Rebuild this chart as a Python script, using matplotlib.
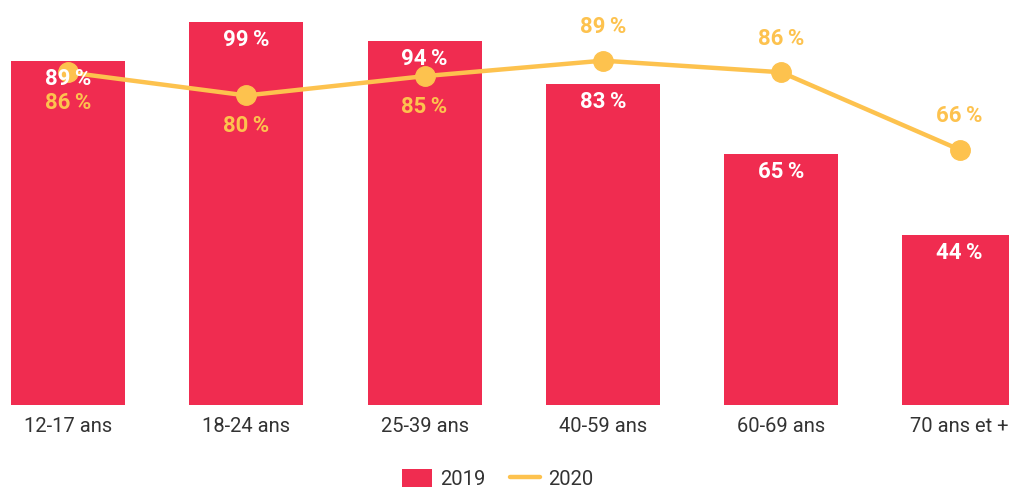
import matplotlib
matplotlib.use("Agg")
import matplotlib.pyplot as plt
from matplotlib.patches import Patch
from matplotlib.lines import Line2D

# Age groups and shares (%)
categories = ["12-17 ans", "18-24 ans", "25-39 ans", "40-59 ans", "60-69 ans", "70 ans et +"]
values_2019 = [89, 99, 94, 83, 65, 44]
values_2020 = [86, 80, 85, 89, 86, 66]
label_below_2020 = [True, True, True, False, False, False]

RED = "#F02C50"
YELLOW = "#FDC24E"
TEXT = "#333333"
BOLD_FONT = ["Roboto", "DejaVu Sans"]

W, H, DPI = 1009, 488, 100
fig = plt.figure(figsize=(W / DPI, H / DPI), dpi=DPI)

px_per_cat = 178.3
x_first = 68.0
baseline_px = 405.0
px_per_unit = 3.869

ax = fig.add_axes([0, (H - baseline_px) / H, 1, baseline_px / H])
ax.set_xlim(-x_first / px_per_cat, (W - x_first) / px_per_cat)
ax.set_ylim(0, baseline_px / px_per_unit)
for s in ax.spines.values():
    s.set_visible(False)
ax.set_yticks([])

x = list(range(len(categories)))
ax.bar(x, values_2019, width=0.64, color=RED, zorder=1)
ax.set_xticks(x)
ax.set_xticklabels(categories, fontsize=14.5, color=TEXT, family="Roboto")
ax.tick_params(axis="x", length=0, pad=9)

# 2019 labels inside bar tops
for xi, v in zip(x, values_2019):
    ax.annotate(f"{v}\u2009%", (xi, v), xytext=(0, -13), textcoords="offset points",
                ha="center", va="center", fontsize=16, fontweight="bold",
                color="white", family=BOLD_FONT, zorder=5)

# 2020 line
ax.plot(x, values_2020, color=YELLOW, lw=3.2, marker="o", ms=14,
        solid_capstyle="round", zorder=3)
for xi, v, below in zip(x, values_2020, label_below_2020):
    dy = -22 if below else 24
    ax.annotate(f"{v}\u2009%", (xi, v), xytext=(0, dy), textcoords="offset points",
                ha="center", va="center", fontsize=16, fontweight="bold",
                color=YELLOW, family=BOLD_FONT, zorder=5)

handles = [Patch(facecolor=RED, edgecolor="none"),
           Line2D([], [], color=YELLOW, lw=3.2, solid_capstyle="round")]
fig.legend(handles, ["2019", "2020"], loc="center", bbox_to_anchor=(0.493, 1 - 479 / H),
           ncol=2, frameon=False, handlelength=1.5, handleheight=1.0,
           handletextpad=0.4, columnspacing=1.2, labelcolor=TEXT,
           prop={"family": "Roboto", "size": 14.5})

fig.savefig("out.png", dpi=DPI)
